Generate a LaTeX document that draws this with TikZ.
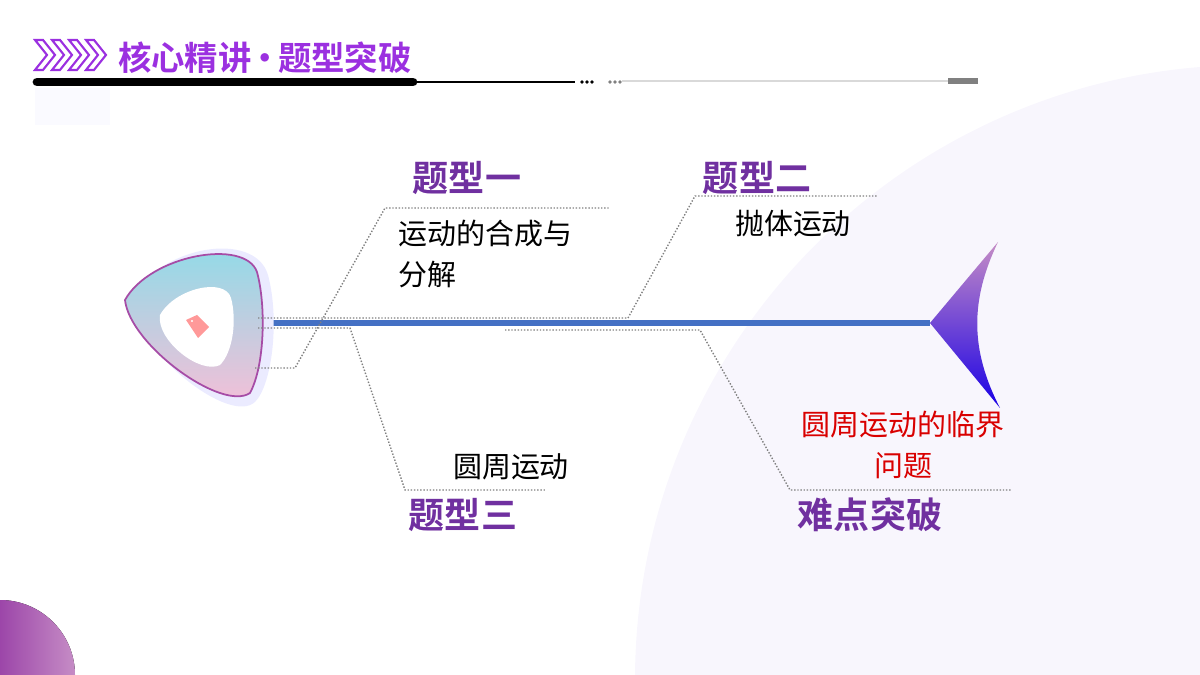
\documentclass[tikz,border=0pt]{standalone}
\usepackage{fontspec}
\setmainfont{Noto Sans CJK SC}
\newfontfamily\cjkbold{Noto Sans CJK SC Bold}
\usetikzlibrary{positioning}
\definecolor{ttlpurple}{RGB}{155,48,224}
\definecolor{typpurple}{RGB}{112,48,160}
\definecolor{spineblue}{RGB}{68,112,196}
\definecolor{bgviolet}{RGB}{248,246,253}
\definecolor{headcyan}{RGB}{140,220,232}
\definecolor{headpink}{RGB}{248,190,215}
\begin{document}
\begin{tikzpicture}[x=0.02cm,y=-0.02cm,
        typelabel/.style={font=\cjkbold\fontsize{20.5}{24}\selectfont, text=typpurple},
        bodytext/.style={font=\fontsize{16.5}{23}\selectfont, align=left},
        fishline/.style={gray, densely dotted, line width=0.8pt},
      ]
      \useasboundingbox (0,0) rectangle (1200,675);
      %Background
      \begin{scope}
        \clip (0,0) rectangle (1200,675);
        \fill[bgviolet] (1250,680) circle (615);
        \fill[left color=violet!90!blue, right color=violet!45] (0,675) circle (75);
        \fill[blue!2] (35,88) rectangle (110,125);
      \end{scope}

      %Header
      \foreach \i in {0,17,34,51}
        \draw[ttlpurple, line width=1.2pt] (35+\i,40) -- (47+\i,55) -- (35+\i,70) -- (43+\i,70) -- (55+\i,55) -- (43+\i,40) -- cycle;
      \node[font=\cjkbold\fontsize{19}{22}\selectfont, text=ttlpurple, anchor=west] (title) at (112,58) {核心精讲\kern-2pt•\kern-2pt题型突破};
      \draw[line width=5pt, line cap=round] (37,82) -- (413,82);
      \draw[line width=0.8pt] (413,82) -- (575,82);
      \foreach \x in {582,587,592} \fill (\x,82) circle (1.8);
      \foreach \x in {610,615,620} \fill[gray] (\x,82) circle (1.8);
      \draw[gray!30, line width=1.2pt] (622,81) -- (978,81);
      \draw[gray, line width=3pt] (948,81) -- (978,81);

      %Fish
      \coordinate (head) at (258,323);
      \coordinate (tailtip) at (930,323);
      \draw[spineblue, line width=3pt] (head) -- (tailtip);
      \fill[blue!8] (130,300) .. controls (160,245) and (255,230) .. (268,275)
        .. controls (280,320) and (272,385) .. (255,402)
        .. controls (230,425) and (140,355) .. cycle;
      \shade[draw=violet!70, line width=1pt, top color=headcyan, bottom color=headpink]
        (125,300) .. controls (150,255) and (245,238) .. (257,272)
        .. controls (266,305) and (265,365) .. (250,393)
        .. controls (222,412) and (130,345) .. cycle;
      \fill[white] (160,315) .. controls (175,288) and (225,277) .. (231,298)
        .. controls (237,320) and (233,352) .. (220,365)
        .. controls (200,375) and (156,340) .. cycle;
      \fill[pink!80!red] (186,320) -- (197,315) -- (209,327) -- (198,338) -- cycle;
      \fill[white] (192,321) circle (1.2);
      \shade[top color=violet!45, bottom color=blue!80!violet]
        (tailtip) -- (998,242) .. controls (970,300) and (970,350) .. (1000,408) -- cycle;

      %Lines
      \draw[fishline] (255,368) -- (295,368) -- (385,208) -- (610,208);
      \draw[fishline] (258,318) -- (628,318) -- (695,196) -- (878,196);
      \draw[fishline] (258,328) -- (350,328) -- (405,490) -- (545,490);
      \draw[fishline] (505,330) -- (700,330) -- (790,490) -- (1012,490);

      %Labels
      \node[typelabel] (type1) at (467,178) {题型一};
      \node[typelabel] (type2) at (757,178) {题型二};
      \node[typelabel] (type3) at (463,515) {题型三};
      \node[typelabel] (hard) at (870,515) {难点突破};
      \node[bodytext, anchor=north west] (text1) at (392,214) {运动的合成与\\分解};
      \node[bodytext] (text2) at (793,224) {抛体运动};
      \node[bodytext] (text3) at (511,467) {圆周运动};
      \node[bodytext, align=center, text=red!85!black] (text4) at (903,445) {圆周运动的临界\\问题};
    \end{tikzpicture}
\end{document}
